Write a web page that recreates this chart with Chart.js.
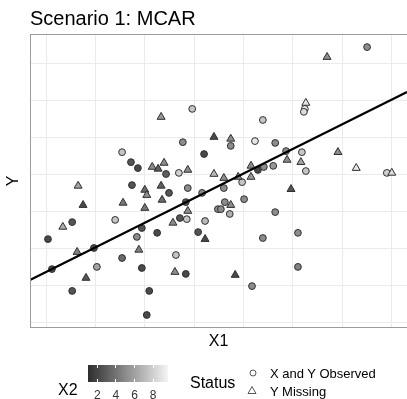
<!DOCTYPE html>
<html lang="en">
<head>
<meta charset="UTF-8">
<title>Scenario 1: MCAR</title>
<script src="https://cdn.jsdelivr.net/npm/chart.js"></script>
<style>
    body { margin: 0; background: #fff; font-family: "Liberation Sans", Arial, sans-serif; }
    #wrap { position: relative; width: 407px; height: 399px; overflow: hidden; }
    canvas { position: absolute; left: 0; top: 0; }
    .txt { position: absolute; white-space: nowrap; color: #000; }
    #title { left: 30px; top: 6px; font-size: 20px; line-height: 24px; }
    #x2lab { left: 58px; top: 381px; font-size: 16px; line-height: 18px; }
    #bar { position: absolute; left: 88px; top: 365px; width: 80px; height: 17px;
           background: linear-gradient(to right, #2e2e2e, #f4f4f4); }
    .tk { position: absolute; width: 1px; height: 3px; background: #fff; }
    .num { position: absolute; top: 388px; font-size: 12px; line-height: 14px; width: 20px; text-align: center; color: #333; }
    #status { left: 190px; top: 374px; font-size: 16px; line-height: 18px; }
    .key { position: absolute; }
    .klab { font-size: 13px; line-height: 15px; color: #000; }
</style>
</head>
<body>
<div id="wrap">
    <canvas id="scatter" width="407" height="399"></canvas>
    <div class="txt" id="title">Scenario 1: MCAR</div>

    <!-- legend -->
    <div class="txt" id="x2lab">X2</div>
    <div id="bar"></div>
    <div id="barTicks"></div>
    <div class="txt" id="status">Status</div>
    <svg class="key" style="left:248px;top:368px" width="10" height="10">
        <circle cx="5" cy="5" r="3" fill="#fff" stroke="#555" stroke-width="1"/>
    </svg>
    <svg class="key" style="left:246px;top:385px" width="12" height="11">
        <polygon points="6,1.5 10,8.5 2,8.5" fill="#fff" stroke="#555" stroke-width="1"/>
    </svg>
    <div class="txt klab" style="left:270px;top:366px">X and Y Observed</div>
    <div class="txt klab" style="left:270px;top:384px">Y Missing</div>
</div>

<script>
// observed cases (X and Y observed)
const obsX1 = [6.50, 5.24, 5.22, 4.39, 3.74, 4.23, 4.64, 4.86, 5.18, 5.26,
               6.90, 4.29, 4.41, 4.60, 2.96, 2.77, 3.20, 2.43, 2.69, 3.97,
               2.87, 3.60, 1.54, 1.72, 1.86, 1.74, 2.49, 3.16, 2.83, 3.48,
               3.54, 3.62, 4.01, 3.72, 4.64, 4.39, 5.10, 5.10, 4.17, 0.53,
               1.40, 0.04, 2.71, 2.85, 3.22, 3.08, 1.94, 1.84, 2.25, 0.97,
               0.12, 1.03, 1.54, 1.94, 2.63, 2.83, 0.53, 2.09, 2.04];
const obsY  = [7.43, 5.76, 5.68, 5.46, 4.76, 4.89, 4.84, 4.62, 4.59, 4.08,
               4.03, 4.11, 4.19, 4.22, 5.76, 4.86, 4.54, 4.00, 4.03, 3.78,
               3.62, 3.62, 4.59, 4.32, 4.16, 3.70, 3.49, 3.49, 3.24, 3.05,
               3.05, 3.24, 3.32, 2.92, 2.97, 2.27, 2.41, 1.49, 0.97, 2.70,
               2.76, 2.24, 2.81, 2.78, 2.73, 2.43, 2.54, 2.30, 2.41, 2.00,
               1.43, 1.49, 1.73, 1.46, 1.81, 1.30, 0.84, 0.84, 0.19];
const obsX2 = [5, 9, 8.5, 7.5, 5, 9, 5, 5, 7.5, 7.5,
               8, 2, 5, 5.5, 7.5, 5, 2, 3, 8, 7.5,
               5, 5, 7.5, 2.5, 2, 2.5, 2.5, 5, 2.5, 5,
               5, 5, 5, 6.5, 5, 5, 5, 4.5, 5, 2.5,
               7.5, 2, 2.5, 7.5, 7, 2.5, 2.5, 5, 2, 2,
               2, 6, 3.5, 2, 7.5, 2, 2.5, 2, 2];

// Y missing cases
const misX1 = [5.69, 5.26, 3.40, 3.74, 4.88, 5.16, 5.91, 6.28, 7.00, 4.15,
               3.40, 3.60, 3.89, 4.15, 2.33, 2.39, 2.27, 2.15, 2.87, 2.33,
               0.65, 2.00, 2.04, 2.35, 0.75, 1.56, 2.00, 2.87, 2.57, 3.22,
               0.34, 0.63, 0.81, 1.88, 2.61, 4.96, 3.74, 3.83];
const misY  = [7.16, 5.92, 5.00, 4.95, 4.38, 4.32, 4.59, 4.16, 4.03, 4.22,
               4.00, 3.89, 3.92, 3.92, 5.54, 4.30, 4.14, 4.19, 4.11, 3.68,
               3.68, 3.57, 3.43, 3.30, 3.16, 3.22, 3.08, 3.00, 2.68, 2.24,
               2.57, 1.89, 1.19, 1.95, 1.35, 3.59, 3.16, 1.27];
const misX2 = [5, 9, 2, 5, 5, 6, 5, 9, 8.5, 5,
               7, 5, 5, 5.5, 5.5, 5, 3, 5, 5, 3,
               6, 3.5, 5, 3.5, 2, 4, 4, 5, 5, 2,
               6.5, 4.5, 2.5, 4.5, 5, 2.5, 5, 2];

// fitted regression line Y ~ X1
const fitIntercept = 1.35;
const fitSlope = 0.666;

const xRange = [-0.324, 7.308];
const yRange = [-0.162, 7.784];
const gridVals = [0, 1, 2, 3, 4, 5, 6, 7];
const x2Ticks = [2, 4, 6, 8];
const x2Range = [1.0, 9.6];

function grey(v) {
    let t = (v - x2Range[0]) / (x2Range[1] - x2Range[0]);
    t = Math.max(0, Math.min(1, t));
    const g = Math.round(50 + t * (244 - 50));
    return 'rgb(' + g + ',' + g + ',' + g + ')';
}

function pts(xs, ys, zs) {
    return xs.map((x, i) => ({ x: x, y: ys[i], x2: zs[i] }));
}

// colourbar ticks + labels
const tickBox = document.getElementById('barTicks');
x2Ticks.forEach(v => {
    const px = 88 + (v - x2Range[0]) / (x2Range[1] - x2Range[0]) * 80;
    tickBox.insertAdjacentHTML('beforeend',
        '<div class="tk" style="left:' + (px - 0.5) + 'px;top:365px"></div>' +
        '<div class="tk" style="left:' + (px - 0.5) + 'px;top:379px"></div>' +
        '<div class="num" style="left:' + (px - 10) + 'px">' + v + '</div>');
});

const panelBorder = {
    id: 'panelBorder',
    afterDraw(chart) {
        const a = chart.chartArea, c = chart.ctx;
        c.save();
        c.strokeStyle = '#9c9c9c';
        c.lineWidth = 1;
        c.strokeRect(a.left + 0.5, a.top + 0.5, a.right - a.left, a.bottom - a.top - 1);
        c.restore();
    }
};

const fillBy = ctx => ctx.raw ? grey(ctx.raw.x2) : '#888';

new Chart(document.getElementById('scatter'), {
    type: 'scatter',
    data: {
        datasets: [
            {
                type: 'line',
                label: 'fit',
                data: xRange.map(x => ({ x: x, y: fitIntercept + fitSlope * x })),
                borderColor: '#000',
                borderWidth: 2.2,
                pointRadius: 0,
                fill: false
            },
            {
                label: 'Y Missing',
                data: pts(misX1, misY, misX2),
                pointStyle: 'triangle',
                pointRadius: 4.6,
                backgroundColor: fillBy,
                borderColor: '#2f2f2f',
                borderWidth: 1
            },
            {
                label: 'X and Y Observed',
                data: pts(obsX1, obsY, obsX2),
                pointStyle: 'circle',
                pointRadius: 3.4,
                backgroundColor: fillBy,
                borderColor: '#2f2f2f',
                borderWidth: 1
            }
        ]
    },
    options: {
        responsive: false,
        animation: false,
        devicePixelRatio: 1,
        layout: { autoPadding: false, padding: { top: 34, left: 0, right: 0, bottom: 47.8 } },
        plugins: {
            legend: { display: false },
            tooltip: { enabled: false }
        },
        scales: {
            x: {
                type: 'linear',
                min: xRange[0],
                max: xRange[1],
                afterBuildTicks: s => { s.ticks = gridVals.map(v => ({ value: v })); },
                ticks: { display: false },
                grid: { color: '#ebebeb', lineWidth: 1, drawTicks: false },
                border: { display: false },
                title: {
                    display: true, text: 'X1', color: '#000',
                    font: { family: '"Liberation Sans", Arial, sans-serif', size: 16, lineHeight: 1.2 },
                    padding: { top: 4, bottom: 0 }
                }
            },
            y: {
                type: 'linear',
                min: yRange[0],
                max: yRange[1],
                afterBuildTicks: s => { s.ticks = gridVals.map(v => ({ value: v })); },
                ticks: { display: false },
                grid: { color: '#ebebeb', lineWidth: 1, drawTicks: false },
                border: { display: false },
                title: {
                    display: true, text: 'Y', color: '#000',
                    font: { family: '"Liberation Sans", Arial, sans-serif', size: 16, lineHeight: 1.2 },
                    padding: { top: 4.4, bottom: 6.4 }
                }
            }
        }
    },
    plugins: [panelBorder]
});
</script>
</body>
</html>
